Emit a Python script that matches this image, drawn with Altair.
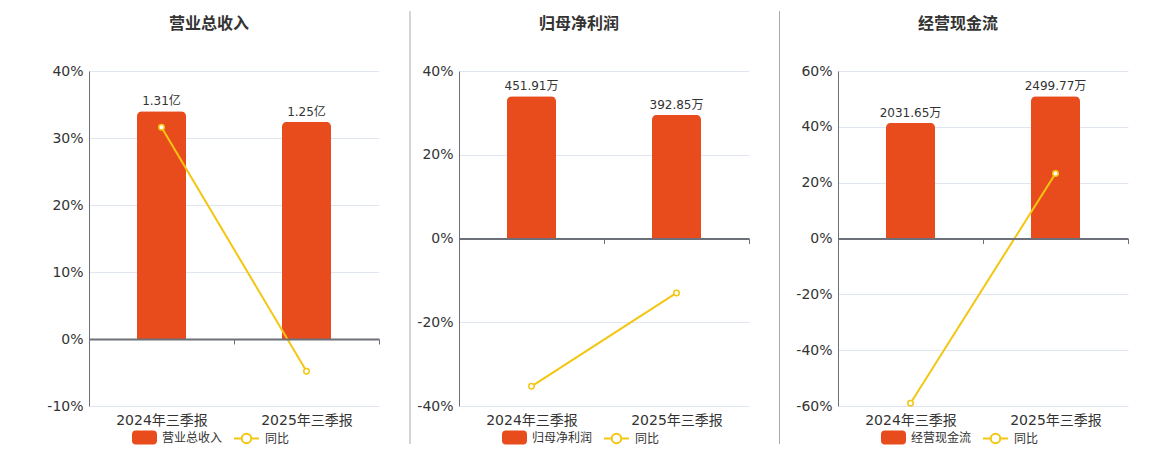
import altair as alt
import pandas as pd

# ---- data ----
periods = ["2024年三季报", "2025年三季报"]

revenue_name = "营业总收入"
revenue_values = [1.31, 1.25]          # 亿
revenue_labels = ["1.31亿", "1.25亿"]
revenue_yoy = [31.6, -4.8]             # %

profit_name = "归母净利润"
profit_values = [451.91, 392.85]       # 万
profit_labels = ["451.91万", "392.85万"]
profit_yoy = [-35.3, -13.0]            # %

cash_name = "经营现金流"
cash_values = [2031.65, 2499.77]       # 万
cash_labels = ["2031.65万", "2499.77万"]
cash_yoy = [-59.0, 23.3]               # %

yoy_name = "同比"

# percentage axis settings (min, max, step) per panel
revenue_axis = (-10, 40, 10)
profit_axis = (-40, 40, 20)
cash_axis = (-60, 60, 20)

# ---- styling ----
FONT = "DejaVu Sans, Noto Sans CJK SC"
ORANGE = "#E84C1D"
YELLOW = "#F3C611"
AXIS = "#6E7079"
GRID = "#E0E6F1"
TEXT = "#333333"
W, H = 290, 335

RECT_PATH = ("M-0.72,-0.56 H0.72 A0.28,0.28 0 0 1 1,-0.28 V0.28 "
             "A0.28,0.28 0 0 1 0.72,0.56 H-0.72 A0.28,0.28 0 0 1 -1,0.28 "
             "V-0.28 A0.28,0.28 0 0 1 -0.72,-0.56 Z")
LINE_PATH = ("M-1,0 H-0.38 M0.38,0 H1 M-0.38,0 A0.38,0.38 0 1 1 0.38,0 "
             "A0.38,0.38 0 1 1 -0.38,0 Z")


def panel(name, values, labels, yoy, axis_range, sep_x, show_sep):
    pmin, pmax, step = axis_range
    df = pd.DataFrame({
        "period": periods,
        "value": values,
        "label": labels,
        "yoy": yoy,
        "series": [name] * len(periods),
        "yoy_name": [yoy_name] * len(periods),
    })
    zero_px = H * pmax / (pmax - pmin)
    x_offset = -(H - zero_px)
    hi = max(values) / 0.85
    lo = hi * pmin / pmax

    x = alt.X(
        "period:N", sort=periods,
        scale=alt.Scale(paddingInner=0, paddingOuter=0),
        axis=alt.Axis(
            title=None, labelAngle=0, orient="bottom", offset=x_offset,
            labelPadding=-x_offset + 2, domainColor=AXIS, domainWidth=2,
            tickColor=AXIS, tickSize=5, tickWidth=1, tickBand="extent",
            labelFontSize=14, labelColor=TEXT, labelFont=FONT, grid=False,
            zindex=1,
        ),
    )
    bar_y = alt.Y("value:Q", scale=alt.Scale(domain=[lo, hi], nice=False, zero=False), axis=None)
    pct_scale = alt.Scale(domain=[pmin, pmax], nice=False, zero=False)

    base = alt.Chart(df)

    bars = base.mark_bar(size=49, cornerRadiusTopLeft=5, cornerRadiusTopRight=5).encode(
        x=x,
        y=bar_y,
        color=alt.Color(
            "series:N", scale=alt.Scale(range=[ORANGE]),
            legend=alt.Legend(
                title=None, orient="none", legendX=43, legendY=354,
                symbolType=RECT_PATH, symbolSize=625, symbolStrokeWidth=0,
                labelFontSize=12, labelColor=TEXT, labelFont=FONT, labelOffset=5,
            ),
        ),
    )
    texts = base.mark_text(baseline="bottom", dy=-3, fontSize=12, font=FONT, color=TEXT).encode(
        x=x,
        y=alt.Y("value:Q", scale=alt.Scale(domain=[lo, hi], nice=False, zero=False), axis=None),
        text="label:N",
    )
    line = base.mark_line(strokeWidth=2).encode(
        x=x,
        y=alt.Y(
            "yoy:Q", scale=pct_scale,
            axis=alt.Axis(
                title=None, values=list(range(pmin, pmax + 1, step)),
                labelExpr="datum.value + '%'", grid=True, gridColor=GRID,
                domainColor=AXIS, domainWidth=1, ticks=False, tickSize=0,
                labelPadding=6, labelFontSize=14, labelColor=TEXT, labelFont=FONT,
            ),
        ),
        stroke=alt.Stroke(
            "yoy_name:N", scale=alt.Scale(range=[YELLOW]),
            legend=alt.Legend(
                title=None, orient="none", legendX=144, legendY=354,
                symbolType=LINE_PATH, symbolSize=625, symbolStrokeWidth=2,
                symbolFillColor="white",
                labelFontSize=12, labelColor=TEXT, labelFont=FONT, labelOffset=5,
            ),
        ),
    )
    points = base.mark_point(shape="circle", filled=True, fill="white", stroke=YELLOW,
                             strokeWidth=1.5, size=30, opacity=1).encode(
        x=x,
        y=alt.Y("yoy:Q", scale=pct_scale, axis=None),
    )
    sep = alt.Chart(pd.DataFrame({"s": [0]})).mark_rule(
        color="#AAAAAA", strokeWidth=1, opacity=1 if show_sep else 0
    ).encode(x=alt.value(sep_x), y=alt.value(-60), y2=alt.value(373))

    return alt.layer(sep, bars, texts, line, points).resolve_scale(y="independent").properties(
        width=W, height=H,
        title=alt.TitleParams(
            text=name, fontSize=16, fontWeight="bold", color=TEXT, font=FONT,
            anchor="middle", frame="group", dx=-25, offset=-21,
        ),
    )


chart = alt.hconcat(
    panel(revenue_name, revenue_values, revenue_labels, revenue_yoy, revenue_axis, -49, False),
    panel(profit_name, profit_values, profit_labels, profit_yoy, profit_axis, -49, True),
    panel(cash_name, cash_values, cash_labels, cash_yoy, cash_axis, -58.5, True),
    spacing=29,
).resolve_scale(
    x="independent", y="independent", color="independent", stroke="independent"
).resolve_legend(
    color="independent", stroke="independent"
).properties(
    padding={"left": 32, "top": 2, "right": 5, "bottom": 5},
    background="white",
).configure_view(stroke=None)

chart.save("out.html", embed_options={"renderer": "svg", "actions": False})
